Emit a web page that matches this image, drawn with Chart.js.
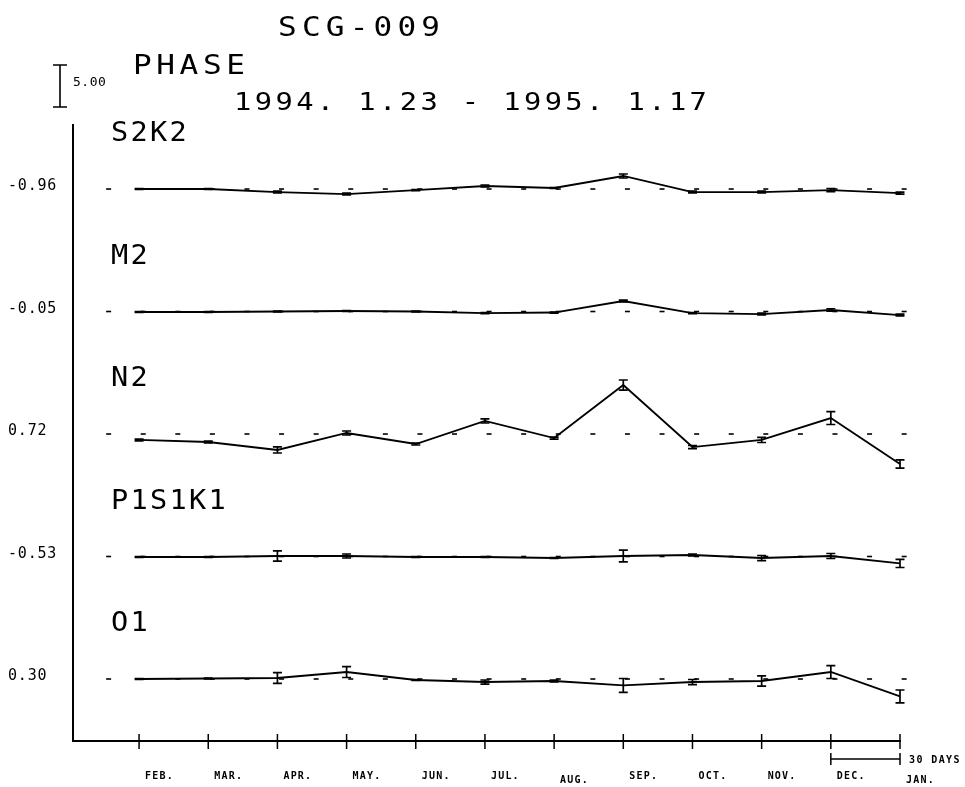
<!DOCTYPE html>
<html lang="en">
<head>
<meta charset="UTF-8">
<title>SCG-009 PHASE</title>
<script src="https://cdn.jsdelivr.net/npm/chart.js"></script>
<style>
    body {
        margin: 0;
        padding: 0;
        background: #ffffff;
    }
    #wrap {
        width: 965px;
        height: 787px;
    }
</style>
</head>
<body>
<div id="wrap"><canvas id="phaseChart" width="965" height="787"></canvas></div>
<script>
    // monthly phase values (degrees) for each constituent
    const months = ['FEB.', 'MAR.', 'APR.', 'MAY.', 'JUN.', 'JUL.', 'AUG.', 'SEP.', 'OCT.', 'NOV.', 'DEC.', 'JAN.'];
    const names = ['S2K2', 'M2', 'N2', 'P1S1K1', 'O1'];
    const means = [-0.96, -0.05, 0.72, -0.53, 0.30];

    const s2k2 = [-0.96, -0.96, -1.32, -1.56, -1.08, -0.60, -0.84, 0.59, -1.32, -1.32, -1.08, -1.44];
    const m2 = [-0.11, -0.11, -0.05, 0.01, -0.05, -0.23, -0.17, 1.20, -0.23, -0.35, 0.13, -0.47];
    const n2 = [0.01, -0.23, -1.18, 0.84, -0.47, 2.27, 0.24, 6.55, -0.83, 0.01, 2.62, -2.85];
    const p1s1k1 = [-0.59, -0.59, -0.47, -0.47, -0.59, -0.59, -0.71, -0.47, -0.35, -0.71, -0.47, -1.36];
    const o1 = [0.30, 0.36, 0.42, 1.13, 0.18, -0.06, 0.06, -0.47, -0.06, 0.06, 1.13, -1.78];

    // error bar half-lengths (degrees)
    const s2k2Err = [0.06, 0.06, 0.10, 0.10, 0.06, 0.12, 0.06, 0.24, 0.10, 0.10, 0.18, 0.12];
    const m2Err = [0.06, 0.06, 0.06, 0.06, 0.06, 0.06, 0.06, 0.10, 0.06, 0.10, 0.15, 0.10];
    const n2Err = [0.10, 0.10, 0.36, 0.24, 0.12, 0.24, 0.12, 0.60, 0.18, 0.30, 0.77, 0.48];
    const p1s1k1Err = [0.06, 0.06, 0.60, 0.24, 0.06, 0.06, 0.06, 0.71, 0.12, 0.30, 0.30, 0.48];
    const o1Err = [0.06, 0.06, 0.65, 0.65, 0.06, 0.24, 0.10, 0.83, 0.30, 0.60, 0.77, 0.77];

    const series = [s2k2, m2, n2, p1s1k1, o1];
    const errors = [s2k2Err, m2Err, n2Err, p1s1k1Err, o1Err];

    const rowStep = 14.58;   // vertical gap between constituents, in degrees
    const scaleBar = 5.00;   // length of the scale mark, in degrees

    function rowBase(k) { return -k * rowStep; }

    const datasets = [];
    series.forEach((vals, k) => {
        datasets.push({
            label: names[k],
            data: vals.map((v, i) => ({ x: i, y: rowBase(k) + v - means[k] })),
            borderColor: '#000',
            borderWidth: 1.8,
            pointRadius: 0,
            tension: 0,
            clip: false
        });
        // dashed mean level, one dash every half month
        const dashes = [];
        for (let j = 0; j < 24; j++) {
            dashes.push({ x: j / 2 - 0.44, y: rowBase(k) });
        }
        datasets.push({
            label: names[k] + ' mean',
            data: dashes,
            showLine: false,
            pointStyle: 'line',
            pointRadius: 2.5,
            borderColor: '#000',
            borderWidth: 1.6,
            clip: false
        });
    });

    const mono = '"DejaVu Sans Mono", monospace';

    // plotter-style text: monospace, optionally stretched sideways
    function text(ctx, str, x, y, size, spacing, weight, stretch) {
        const h = stretch || 1;
        ctx.save();
        ctx.translate(x, y);
        ctx.scale(h, 1);
        ctx.font = (weight || 'normal') + ' ' + size + 'px ' + mono;
        ctx.letterSpacing = (spacing / h) + 'px';
        ctx.fillText(str, 0, 0);
        ctx.restore();
    }

    const decorations = {
        id: 'decorations',
        afterDraw(chart) {
            const ctx = chart.ctx;
            const xs = chart.scales.x;
            const ys = chart.scales.y;
            const area = chart.chartArea;
            ctx.save();
            ctx.fillStyle = '#000';
            ctx.strokeStyle = '#000';
            ctx.textBaseline = 'alphabetic';
            ctx.textAlign = 'left';

            // error bars
            ctx.lineWidth = 1.7;
            series.forEach((vals, k) => {
                vals.forEach((v, i) => {
                    const e = errors[k][i];
                    const px = xs.getPixelForValue(i);
                    const top = ys.getPixelForValue(rowBase(k) + v - means[k] + e);
                    const bot = ys.getPixelForValue(rowBase(k) + v - means[k] - e);
                    ctx.beginPath();
                    ctx.moveTo(px, top); ctx.lineTo(px, bot);
                    ctx.moveTo(px - 4.5, top); ctx.lineTo(px + 4.5, top);
                    ctx.moveTo(px - 4.5, bot); ctx.lineTo(px + 4.5, bot);
                    ctx.stroke();
                });
            });

            // x axis ticks crossing the axis line
            ctx.lineWidth = 1.5;
            months.forEach((m, i) => {
                const px = xs.getPixelForValue(i);
                ctx.beginPath();
                ctx.moveTo(px, area.bottom - 7);
                ctx.lineTo(px, area.bottom + 8);
                ctx.stroke();
            });

            // month labels
            months.forEach((m, i) => {
                const px = xs.getPixelForValue(i);
                const low = (m === 'AUG.' || m === 'JAN.') ? 4 : 0;
                text(ctx, m, px + 6, area.bottom + 38 + low, 10, 1.2, 'bold');
            });

            // 30 days bar
            const d0 = xs.getPixelForValue(10);
            const d1 = xs.getPixelForValue(11);
            const by = area.bottom + 18;
            ctx.beginPath();
            ctx.moveTo(d0, by); ctx.lineTo(d1, by);
            ctx.moveTo(d0, by - 6); ctx.lineTo(d0, by + 6);
            ctx.moveTo(d1, by - 6); ctx.lineTo(d1, by + 6);
            ctx.stroke();
            text(ctx, '30 DAYS', d1 + 9, by + 4, 10, 1.4, 'bold');

            // row names and mean values
            names.forEach((n, k) => {
                const py = ys.getPixelForValue(rowBase(k));
                text(ctx, n, area.left + 38, py - 48, 26, 2.3, 'normal', 1.1);
                text(ctx, means[k].toFixed(2), 8, py + 1, 15, 0.8, 'normal');
            });

            // scale mark: 5 degrees
            const len = ys.getPixelForValue(0) - ys.getPixelForValue(scaleBar);
            const sx = 60, sTop = 65;
            ctx.lineWidth = 1.6;
            ctx.beginPath();
            ctx.moveTo(sx, sTop); ctx.lineTo(sx, sTop + len);
            ctx.moveTo(sx - 7, sTop); ctx.lineTo(sx + 7, sTop);
            ctx.moveTo(sx - 7, sTop + len); ctx.lineTo(sx + 7, sTop + len);
            ctx.stroke();
            text(ctx, scaleBar.toFixed(2), 73, 86, 13, 0.5, 'normal');

            // titles
            text(ctx, 'SCG-009', 278, 36, 27, 5.2, 'normal', 1.15);
            text(ctx, 'PHASE', 133, 74, 27, 4.6, 'normal', 1.15);
            text(ctx, '1994. 1.23 - 1995. 1.17', 234, 110, 25, 3.4, 'normal', 1.15);

            ctx.restore();
        }
    };

    new Chart(document.getElementById('phaseChart'), {
        type: 'line',
        data: { datasets: datasets },
        options: {
            responsive: false,
            animation: false,
            events: [],
            layout: { padding: { left: 73, top: 125, right: 65, bottom: 46 } },
            plugins: {
                legend: { display: false },
                tooltip: { enabled: false }
            },
            scales: {
                x: {
                    type: 'linear',
                    min: -0.955,
                    max: 11,
                    grid: { display: false },
                    ticks: { display: false },
                    border: { display: true, color: '#000', width: 2 },
                    afterFit(scale) { scale.height = 0; }
                },
                y: {
                    type: 'linear',
                    min: -65.7,
                    max: 7.62,
                    grid: { display: false },
                    ticks: { display: false },
                    border: { display: true, color: '#000', width: 2 },
                    afterFit(scale) { scale.width = 0; }
                }
            }
        },
        plugins: [decorations]
    });
</script>
</body>
</html>
